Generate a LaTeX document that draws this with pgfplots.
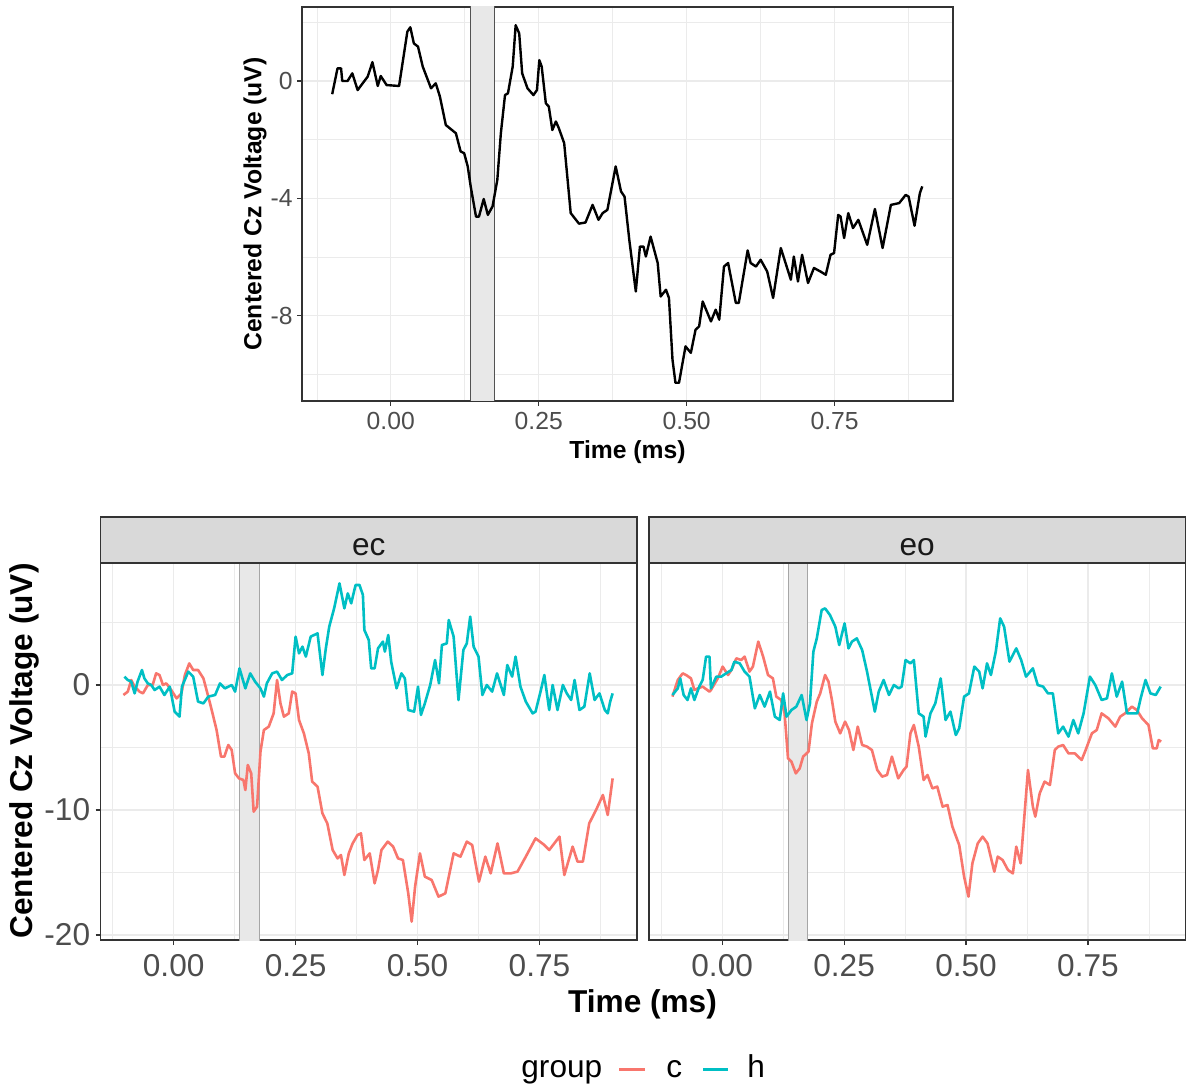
\documentclass[border=0pt]{standalone}
\usepackage{fontspec}
\setmainfont{Liberation Sans}
\usepackage{pgfplots}
\pgfplotsset{compat=1.18}

\definecolor{cred}{HTML}{F8766D}
\definecolor{cteal}{HTML}{00BFC4}
\definecolor{gridc}{HTML}{EBEBEB}
\definecolor{framec}{HTML}{333333}
\definecolor{tickc}{HTML}{4D4D4D}
\definecolor{stripc}{HTML}{D9D9D9}
\definecolor{shadec}{HTML}{E8E8E8}

\newcommand{\fsmall}{\fontsize{12.35pt}{14pt}\selectfont}
\newcommand{\fbig}{\fontsize{15.8pt}{18pt}\selectfont}

\pgfplotsset{
  gg/.style={
    scale only axis, anchor=south west, clip=true,
    axis line style={framec, line width=0.7pt},
    grid=both,
    major grid style={gridc, line width=0.6pt},
    minor grid style={gridc, line width=0.3pt},
    tick align=outside, xtick pos=left, ytick pos=left,
    major tick length=2.5pt, minor tick length=0pt,
    tick style={framec, line width=0.55pt},
    xmin=-0.15, xmax=0.95,
    xtick={0,0.25,0.5,0.75}, xticklabels={0.00,0.25,0.50,0.75},
    minor xtick={-0.125,0.125,0.375,0.625,0.875},
    ticklabel style={text=tickc, inner sep=0pt},
  },
  erp/.style={line width=1.3pt, line join=round},
}

\begin{document}
\begin{tikzpicture}
\path[use as bounding box] (0,0) rectangle (593pt,543.5pt);

% ---- top: grand average ----
\begin{axis}[gg,
  at={(151pt,343pt)}, width=325.5pt, height=197pt,
  ymin=-10.9, ymax=2.52,
  ytick={-8,-4,0}, yticklabels={-8,-4,0}, minor ytick={-10,-6,-2,2},
  ticklabel style={font=\fsmall},
  x tick label style={yshift=-2.8pt}, y tick label style={xshift=-2pt},
]
\addplot[fill=shadec, draw=framec!85, line width=0.75pt] coordinates {(0.135,-12) (0.135,3) (0.175,3) (0.175,-12)} -- cycle;
\addplot[black, line width=1.2pt, line join=round] coordinates {
(-0.099,-0.45) (-0.090,0.43) (-0.084,0.43) (-0.082,0) (-0.073,0) (-0.065,0.26) (-0.056,-0.31) (-0.039,0.15) (-0.031,0.64) (-0.022,-0.17) (-0.017,0.17) (-0.007,-0.14) (0.014,-0.17) (0.028,1.68) (0.033,1.83) (0.039,1.28) (0.046,1.17) (0.054,0.49) (0.068,-0.25) (0.076,-0.08) (0.083,-0.53) (0.093,-1.50) (0.110,-1.78) (0.118,-2.40) (0.124,-2.46) (0.130,-2.91) (0.135,-3.59) (0.144,-4.62) (0.149,-4.62) (0.157,-4.02) (0.164,-4.56) (0.172,-4.27) (0.180,-3.37) (0.186,-1.78) (0.193,-0.48) (0.198,-0.42) (0.206,0.49) (0.211,1.90) (0.217,1.62) (0.222,0.26) (0.231,-0.25) (0.241,-0.48) (0.247,-0.31) (0.251,0.71) (0.255,0.49) (0.262,-0.76) (0.267,-0.87) (0.273,-1.67) (0.279,-1.38) (0.284,-1.61) (0.293,-2.12) (0.304,-4.50) (0.318,-4.86) (0.329,-4.82) (0.341,-4.22) (0.351,-4.73) (0.358,-4.50) (0.366,-4.39) (0.380,-2.91) (0.389,-3.76) (0.395,-3.94) (0.403,-5.41) (0.414,-7.17) (0.421,-5.64) (0.427,-5.64) (0.431,-5.98) (0.439,-5.30) (0.451,-6.20) (0.456,-7.34) (0.465,-7.11) (0.470,-7.39) (0.476,-9.49) (0.481,-10.28) (0.487,-10.28) (0.498,-9.04) (0.507,-9.26) (0.515,-8.47) (0.521,-8.36) (0.527,-7.51) (0.534,-7.85) (0.541,-8.19) (0.549,-7.79) (0.555,-8.13) (0.563,-6.32) (0.570,-6.20) (0.583,-7.56) (0.588,-7.56) (0.603,-5.77) (0.608,-6.20) (0.617,-6.32) (0.625,-6.09) (0.636,-6.49) (0.646,-7.39) (0.659,-5.69) (0.667,-6.20) (0.676,-6.77) (0.681,-5.98) (0.688,-6.83) (0.695,-5.92) (0.705,-6.88) (0.715,-6.37) (0.726,-6.49) (0.735,-6.60) (0.743,-5.92) (0.749,-5.86) (0.756,-4.56) (0.760,-4.62) (0.766,-5.35) (0.773,-4.50) (0.781,-5.01) (0.790,-4.73) (0.805,-5.58) (0.818,-4.36) (0.831,-5.69) (0.845,-4.22) (0.859,-4.16) (0.870,-3.88) (0.875,-3.94) (0.885,-4.93) (0.894,-3.82) (0.898,-3.59)
};
\end{axis}
\node[font=\fsmall\bfseries] at (313.75pt,317.5pt) {Time (ms)};
\node[font=\fsmall\bfseries, rotate=90] at (127.5pt,441.5pt) {Centered Cz Voltage (uV)};

% ---- bottom left: ec ----
\begin{axis}[gg,
  at={(50.25pt,73.5pt)}, width=268.25pt, height=188.5pt,
  ymin=-20.4, ymax=9.76,
  ytick={-20,-10,0}, yticklabels={-20,-10,0}, minor ytick={-15,-5,5},
  ticklabel style={font=\fbig},
  x tick label style={yshift=-4.5pt}, y tick label style={xshift=-2.5pt},
]
\addplot[fill=shadec, draw=gray!70, line width=0.5pt] coordinates {(0.135,-22) (0.135,11) (0.175,11) (0.175,-22)} -- cycle;
\addplot[cred, erp] coordinates {
(-0.103,-0.80) (-0.094,-0.53) (-0.087,0.40) (-0.080,-0.13) (-0.070,-0.53) (-0.063,-0.67) (-0.053,0) (-0.043,0) (-0.036,0.93) (-0.029,0.80) (-0.022,0) (-0.015,0.13) (-0.005,-0.40) (0.006,-1.07) (0.016,-0.67) (0.023,0.80) (0.032,1.73) (0.040,1.20) (0.050,1.20) (0.061,0.53) (0.071,-0.93) (0.078,-2.00) (0.088,-3.60) (0.097,-5.73) (0.104,-5.73) (0.112,-4.80) (0.119,-5.20) (0.126,-7.07) (0.134,-7.47) (0.143,-7.60) (0.147,-8.40) (0.152,-6.40) (0.159,-7.07) (0.164,-10.13) (0.171,-9.73) (0.178,-5.33) (0.185,-3.60) (0.195,-3.33) (0.205,-2.27) (0.212,0.40) (0.219,-1.47) (0.226,-2.53) (0.236,-2.27) (0.243,-0.53) (0.250,-0.67) (0.257,-2.80) (0.267,-3.87) (0.277,-5.47) (0.284,-7.73) (0.295,-8.13) (0.305,-10.27) (0.315,-11.07) (0.326,-13.20) (0.336,-13.87) (0.343,-13.60) (0.350,-15.20) (0.359,-13.47) (0.367,-12.67) (0.377,-12.00) (0.384,-11.87) (0.391,-14.00) (0.402,-13.47) (0.412,-15.87) (0.419,-14.80) (0.426,-13.20) (0.439,-12.53) (0.450,-12.93) (0.460,-13.87) (0.470,-14.00) (0.481,-16.67) (0.488,-18.93) (0.495,-16.13) (0.505,-13.47) (0.515,-15.33) (0.529,-15.60) (0.543,-16.93) (0.557,-16.67) (0.574,-13.47) (0.588,-13.73) (0.601,-12.53) (0.612,-12.80) (0.626,-15.73) (0.639,-13.73) (0.650,-15.07) (0.664,-12.67) (0.677,-15.07) (0.691,-15.07) (0.705,-14.93) (0.722,-13.73) (0.742,-12.27) (0.760,-12.80) (0.770,-13.20) (0.791,-12.13) (0.801,-15.20) (0.818,-12.93) (0.828,-14.13) (0.839,-14.13) (0.852,-11.07) (0.866,-10.00) (0.880,-8.80) (0.890,-10.40) (0.895,-8.93) (0.900,-7.47)
};
\addplot[cteal, erp] coordinates {
(-0.101,0.67) (-0.094,0.40) (-0.087,0.27) (-0.080,-0.67) (-0.074,0.27) (-0.065,1.20) (-0.060,0.53) (-0.053,0.13) (-0.046,0) (-0.039,-0.40) (-0.029,-0.13) (-0.019,-0.80) (-0.008,-0.13) (0.002,-2.13) (0.012,-2.53) (0.017,-0.13) (0.030,1.07) (0.040,0.67) (0.050,-1.33) (0.061,-1.47) (0.071,-0.93) (0.085,-0.80) (0.095,0.13) (0.105,-0.27) (0.119,0) (0.126,-0.53) (0.135,1.33) (0.147,-0.27) (0.157,0.93) (0.167,0.27) (0.178,-0.27) (0.185,-0.93) (0.191,0.13) (0.202,0.93) (0.212,1.07) (0.222,0.40) (0.233,0.80) (0.243,0.93) (0.250,3.87) (0.257,2.53) (0.264,3.07) (0.271,2.27) (0.281,3.87) (0.295,4.13) (0.305,0.80) (0.312,2.93) (0.319,4.67) (0.329,6.13) (0.340,8.13) (0.350,6.13) (0.357,7.33) (0.364,6.53) (0.373,8.00) (0.381,8.00) (0.388,7.20) (0.391,4.40) (0.400,3.60) (0.405,1.33) (0.412,1.33) (0.419,2.93) (0.429,3.47) (0.433,2.67) (0.440,4.00) (0.446,1.87) (0.457,-0.27) (0.467,0.93) (0.474,0.53) (0.481,-2.00) (0.493,-2.13) (0.501,-0.13) (0.507,-2.40) (0.515,-1.47) (0.526,0) (0.536,2.00) (0.544,0.13) (0.550,3.20) (0.560,3.33) (0.564,5.20) (0.574,3.87) (0.584,-1.20) (0.594,2.80) (0.601,3.33) (0.608,5.47) (0.615,3.07) (0.625,2.27) (0.633,-0.80) (0.642,0) (0.653,-0.53) (0.663,0.93) (0.677,-0.80) (0.684,1.60) (0.694,0.67) (0.701,2.27) (0.711,-0.13) (0.722,-1.33) (0.736,-2.27) (0.742,-2.13) (0.753,-0.40) (0.760,0.80) (0.770,-2.00) (0.777,0) (0.787,-2.00) (0.798,0) (0.806,-0.67) (0.815,-1.20) (0.822,0.40) (0.832,-2.00) (0.842,-1.73) (0.853,0.93) (0.863,-1.20) (0.873,-0.67) (0.884,-2.00) (0.890,-2.27) (0.895,-1.33) (0.900,-0.67)
};
\end{axis}

% ---- bottom right: eo ----
\begin{axis}[gg,
  at={(324.5pt,73.5pt)}, width=268.25pt, height=188.5pt,
  ymin=-20.4, ymax=9.76,
  ytick={-20,-10,0}, yticklabels={}, minor ytick={-15,-5,5},
  ytick style={draw=none},
  ticklabel style={font=\fbig},
  x tick label style={yshift=-4.5pt},
]
\addplot[fill=shadec, draw=gray!70, line width=0.5pt] coordinates {(0.135,-22) (0.135,11) (0.175,11) (0.175,-22)} -- cycle;
\addplot[cred, erp] coordinates {
(-0.102,-0.93) (-0.091,0.40) (-0.081,0.93) (-0.074,0.80) (-0.064,0.53) (-0.057,-0.40) (-0.050,-0.27) (-0.040,-0.13) (-0.026,-0.53) (-0.023,-0.40) (-0.009,0.53) (0.001,1.47) (0.012,0.80) (0.019,1.20) (0.029,2.13) (0.039,2.00) (0.046,2.27) (0.056,1.07) (0.063,1.47) (0.074,3.47) (0.084,2.27) (0.094,0.80) (0.104,0.53) (0.111,-0.93) (0.121,-1.20) (0.128,-2.27) (0.135,-5.87) (0.142,-6.13) (0.151,-7.07) (0.159,-6.67) (0.166,-5.73) (0.177,-5.33) (0.184,-3.07) (0.194,-1.33) (0.201,-0.67) (0.211,0.80) (0.218,0.27) (0.225,-1.20) (0.232,-2.93) (0.242,-3.87) (0.252,-2.93) (0.260,-3.60) (0.269,-5.20) (0.278,-3.33) (0.287,-4.80) (0.297,-4.93) (0.307,-5.20) (0.318,-6.80) (0.328,-7.33) (0.338,-7.20) (0.348,-5.73) (0.361,-7.47) (0.372,-6.80) (0.378,-6.53) (0.386,-3.87) (0.393,-3.20) (0.403,-4.93) (0.413,-7.60) (0.421,-7.20) (0.431,-8.27) (0.441,-8.13) (0.452,-9.73) (0.462,-9.60) (0.472,-11.33) (0.486,-12.80) (0.496,-15.33) (0.505,-16.93) (0.513,-14.27) (0.524,-12.67) (0.534,-12.13) (0.544,-12.67) (0.558,-14.93) (0.565,-13.73) (0.575,-14.00) (0.586,-14.80) (0.596,-15.07) (0.603,-12.93) (0.612,-14.27) (0.619,-10.80) (0.627,-6.80) (0.637,-9.73) (0.642,-10.53) (0.651,-8.67) (0.661,-7.73) (0.672,-8.00) (0.682,-5.20) (0.689,-4.93) (0.699,-4.80) (0.710,-5.47) (0.723,-5.47) (0.737,-6.00) (0.744,-5.33) (0.758,-3.87) (0.768,-3.60) (0.778,-2.27) (0.792,-2.67) (0.806,-3.33) (0.816,-2.53) (0.826,-2.27) (0.840,-1.73) (0.850,-2.00) (0.861,-2.67) (0.874,-3.20) (0.883,-5.07) (0.891,-5.07) (0.895,-4.40) (0.900,-4.53)
};
\addplot[cteal, erp] coordinates {
(-0.102,-0.80) (-0.091,-0.27) (-0.086,0.53) (-0.079,-0.80) (-0.071,-1.20) (-0.064,-0.27) (-0.057,-1.20) (-0.047,-0.13) (-0.040,0.40) (-0.033,2.27) (-0.026,2.27) (-0.023,-0.27) (-0.012,0.67) (-0.002,0.67) (0.008,0.93) (0.019,1.20) (0.025,1.87) (0.036,1.73) (0.046,1.07) (0.056,0.67) (0.067,-1.87) (0.077,-0.80) (0.087,-1.73) (0.098,-0.53) (0.108,-2.53) (0.118,-2.80) (0.125,-0.67) (0.132,-2.53) (0.142,-2.00) (0.152,-1.73) (0.163,-0.80) (0.173,-2.80) (0.180,-1.47) (0.187,2.67) (0.194,3.73) (0.204,6.00) (0.211,6.13) (0.221,5.60) (0.232,4.67) (0.240,3.20) (0.251,4.93) (0.259,2.93) (0.266,3.47) (0.276,3.73) (0.287,2.80) (0.297,1.07) (0.307,-0.93) (0.313,-2.13) (0.321,-0.53) (0.331,0.40) (0.342,-0.80) (0.352,0) (0.362,-0.27) (0.368,-0.13) (0.376,2.00) (0.386,1.73) (0.393,2.00) (0.403,-2.27) (0.413,-2.53) (0.417,-4.13) (0.427,-2.27) (0.437,-1.47) (0.448,0.53) (0.458,-2.80) (0.468,-2.13) (0.479,-4.00) (0.486,-3.47) (0.496,-0.93) (0.506,-0.67) (0.517,1.47) (0.527,1.07) (0.534,-0.27) (0.543,1.73) (0.551,0.80) (0.561,2.67) (0.570,5.33) (0.578,4.67) (0.589,1.87) (0.603,2.93) (0.613,2.00) (0.623,0.67) (0.637,1.33) (0.647,0) (0.658,-0.13) (0.668,-0.67) (0.678,-0.67) (0.689,-3.87) (0.699,-3.33) (0.710,-4.13) (0.720,-2.80) (0.730,-3.87) (0.741,-2.27) (0.754,0.67) (0.765,0) (0.778,-1.20) (0.789,-1.07) (0.799,0.93) (0.809,-0.93) (0.820,0.27) (0.830,-2.27) (0.840,-2.27) (0.851,-2.27) (0.858,-1.07) (0.868,0.40) (0.878,-0.67) (0.889,-0.80) (0.899,-0.13)
};
\end{axis}

% facet strips
\draw[fill=stripc, draw=framec, line width=0.7pt] (50.25pt,262pt) rectangle (318.5pt,285pt);
\draw[fill=stripc, draw=framec, line width=0.7pt] (324.5pt,262pt) rectangle (592.75pt,285pt);
\node[font=\fbig, text=black!90, anchor=base] at (184.4pt,265.5pt) {ec};
\node[font=\fbig, text=black!90, anchor=base] at (458.6pt,265.5pt) {eo};

% bottom titles
\node[font=\fbig\bfseries] at (321.25pt,41.5pt) {Time (ms)};
\node[font=\fbig\bfseries, rotate=90] at (12pt,168pt) {Centered Cz Voltage (uV)};

% legend
\node[font=\fbig, anchor=base west, inner sep=0pt] at (260.5pt,5pt) {group};
\draw[cred, line width=1.5pt] (309.5pt,9pt) -- (322.5pt,9pt);
\node[font=\fbig, anchor=base west, inner sep=0pt] at (333pt,5pt) {c};
\draw[cteal, line width=1.5pt] (351.5pt,9pt) -- (364pt,9pt);
\node[font=\fbig, anchor=base west, inner sep=0pt] at (373.5pt,5pt) {h};
\end{tikzpicture}
\end{document}
